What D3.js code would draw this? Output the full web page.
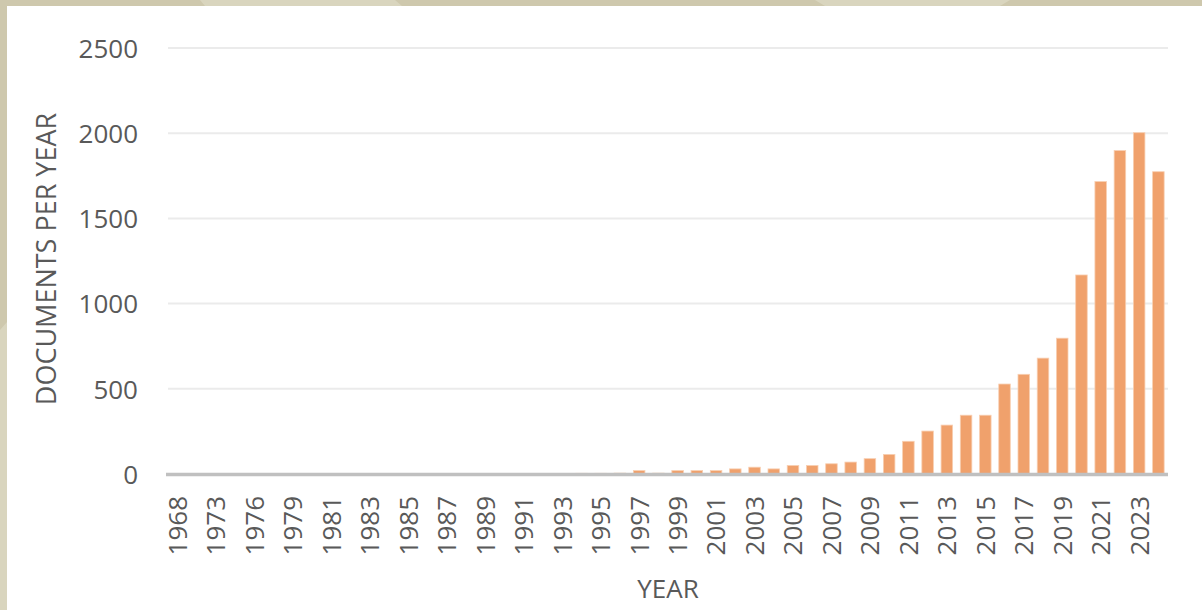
<!DOCTYPE html>
<html>
<head>
<meta charset="utf-8">
<script src="https://cdn.jsdelivr.net/npm/d3@7"></script>
<style>
  html, body { margin: 0; padding: 0; background: #ffffff; }
  svg { display: block; }
  text { font-family: "Open Sans", "Noto Sans", sans-serif; fill: #595959; }
</style>
</head>
<body>
<script>
// Publication years (every category of the bar chart)
const years = [
  "1968", "1970", "1973", "1974", "1976", "1977",
  "1979", "1980", "1981", "1982", "1983", "1984", "1985", "1986", "1987", "1988",
  "1989", "1990", "1991", "1992", "1993", "1994", "1995", "1996", "1997", "1998",
  "1999", "2000", "2001", "2002", "2003", "2004", "2005", "2006", "2007", "2008",
  "2009", "2010", "2011", "2012", "2013", "2014", "2015", "2016", "2017", "2018",
  "2019", "2020", "2021", "2022", "2023", "2024"
];

// Number of documents published in each year
const documents = [
  1, 1, 1, 1, 1, 1,
  1, 1, 2, 1, 1, 2, 1, 2, 1, 2,
  2, 3, 2, 3, 3, 4, 4, 5, 20, 5,
  20, 20, 20, 30, 40, 30, 50, 50, 60, 70,
  90, 115, 192, 252, 287, 345, 345, 528, 585, 680,
  797, 1168, 1716, 1898, 2003, 1774
];

const yTicks = [0, 500, 1000, 1500, 2000, 2500];
const yTitle = "DOCUMENTS PER YEAR";
const xTitle = "YEAR";

const W = 1202, H = 610;
const plot = { left: 168, right: 1168, top: 48, bottom: 474 };

const svg = d3.select("body").append("svg")
  .attr("width", W).attr("height", H);

// slide frame behind the white chart area
svg.append("rect").attr("width", W).attr("height", H).attr("fill", "#cec8ad");
svg.append("path")
  .attr("d", "M200,0 L395,0 L402,6 L205,6 Z M815,0 L1010,0 L1000,6 L825,6 Z M0,330 L7,322 L7,610 L0,610 Z")
  .attr("fill", "#d9d5be");
svg.append("rect").attr("x", 7).attr("y", 6).attr("width", W - 7).attr("height", H - 6)
  .attr("fill", "#ffffff");

const x = d3.scaleBand()
  .domain(years)
  .range([plot.left, plot.right])
  .paddingInner(0.4)
  .paddingOuter(0.2);

const y = d3.scaleLinear()
  .domain([0, 2500])
  .range([plot.bottom, plot.top]);

// horizontal gridlines
svg.append("g")
  .selectAll("line")
  .data(yTicks.filter(d => d > 0))
  .join("line")
  .attr("x1", plot.left).attr("x2", plot.right)
  .attr("y1", d => y(d)).attr("y2", d => y(d))
  .attr("stroke", "#ebebeb").attr("stroke-width", 2);

// bars
svg.append("g")
  .selectAll("rect")
  .data(years.map((yr, i) => ({ yr, v: documents[i] })))
  .join("rect")
  .attr("x", d => x(d.yr))
  .attr("width", x.bandwidth())
  .attr("y", d => y(d.v))
  .attr("height", d => y(0) - y(d.v))
  .attr("fill", "#f0a16c")
  .attr("stroke", "#f8cfb2")
  .attr("stroke-width", 0.8);

// category axis line
svg.append("line")
  .attr("x1", plot.left - 2).attr("x2", plot.right)
  .attr("y1", y(0) + 0.5).attr("y2", y(0) + 0.5)
  .attr("stroke", "#c0c0c0").attr("stroke-width", 3.5);

// value axis labels
const yAxis = d3.axisLeft(y).tickValues(yTicks).tickFormat(d3.format("d"))
  .tickSize(0).tickPadding(30);
const gy = svg.append("g")
  .attr("transform", `translate(${plot.left},0)`)
  .call(yAxis);
gy.select(".domain").remove();
gy.selectAll("text")
  .style("font-size", "26px")
  .attr("fill", "#595959")
  .attr("dy", "0.36em");

// year labels, every other category, rotated
const xAxis = d3.axisBottom(x)
  .tickValues(years.filter((d, i) => i % 2 === 0))
  .tickSize(0);
const gx = svg.append("g")
  .attr("transform", `translate(0,${plot.bottom})`)
  .call(xAxis);
gx.select(".domain").remove();
gx.selectAll("text")
  .style("font-size", "26px")
  .attr("fill", "#595959")
  .attr("text-anchor", "end")
  .attr("transform", "rotate(-90)")
  .attr("x", -22)
  .attr("y", 0)
  .attr("dy", "0.36em");

// axis titles
svg.append("text")
  .attr("x", (plot.left + plot.right) / 2)
  .attr("y", 598)
  .attr("text-anchor", "middle")
  .style("font-size", "26px")
  .text(xTitle);

svg.append("text")
  .attr("transform", `translate(56,${(plot.top + plot.bottom) / 2 - 2}) rotate(-90)`)
  .attr("text-anchor", "middle")
  .style("font-size", "27px")
  .text(yTitle);
</script>
</body>
</html>
